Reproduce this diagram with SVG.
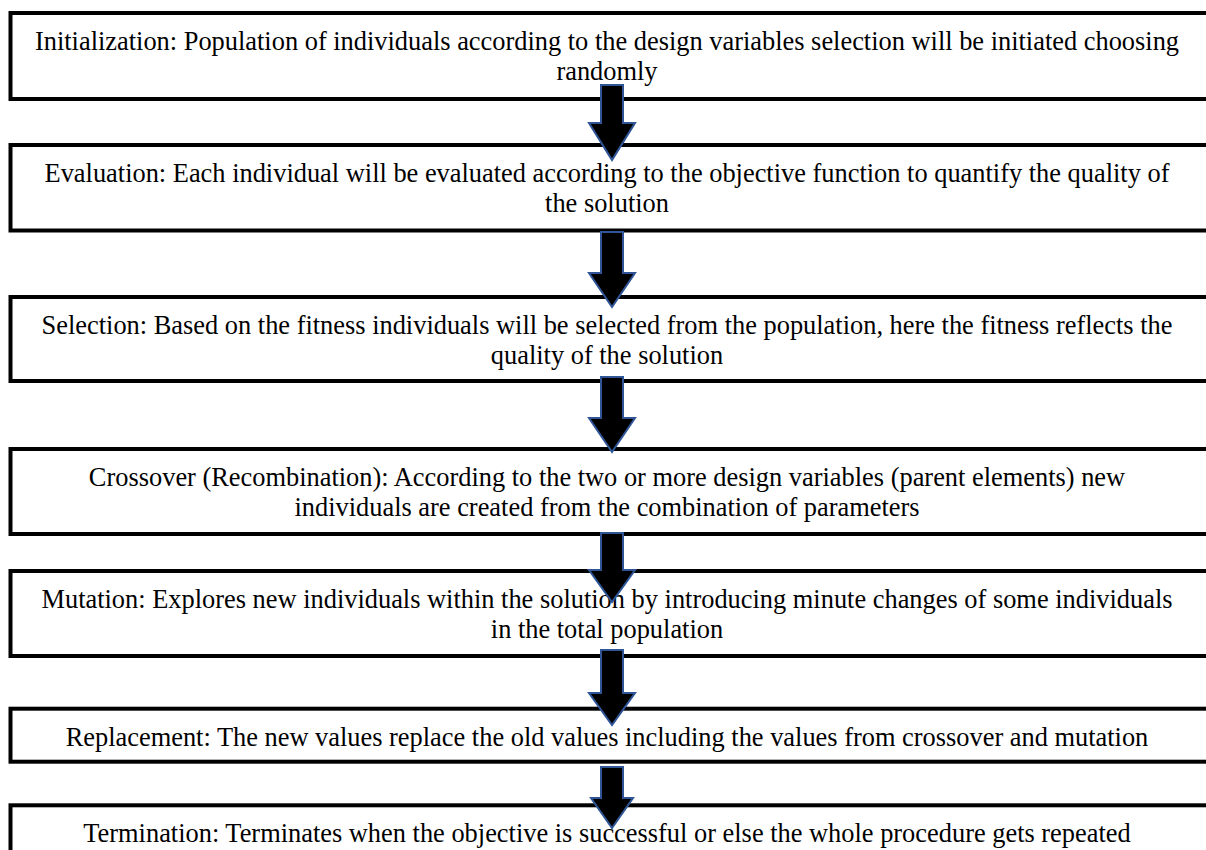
<svg xmlns="http://www.w3.org/2000/svg" width="1206" height="850" viewBox="0 0 1206 850">
  <style>
    .box { fill: #ffffff; stroke: #000000; stroke-width: 4; }
    .label { font-family: "Liberation Serif", "Times New Roman", serif; font-size: 26.4px; fill: #000000; text-anchor: middle; }
    .arrow { fill: #000000; stroke: #2F5597; stroke-width: 2; stroke-linejoin: miter; }
  </style>
  <rect width="1206" height="850" fill="#ffffff"/>

  <g id="initialization">
    <rect class="box" x="10.5" y="13" width="1210" height="86"/>
    <text class="label" x="607" y="50">Initialization: Population of individuals according to the design variables selection will be initiated choosing</text>
    <text class="label" x="607" y="80">randomly</text>
  </g>

  <g id="evaluation">
    <rect class="box" x="10.5" y="145" width="1210" height="85.5"/>
    <text class="label" x="607" y="182">Evaluation: Each individual will be evaluated according to the objective function to quantify the quality of</text>
    <text class="label" x="607" y="212">the solution</text>
  </g>

  <g id="selection">
    <rect class="box" x="10.5" y="297" width="1210" height="84"/>
    <text class="label" x="607" y="334">Selection: Based on the fitness individuals will be selected from the population, here the fitness reflects the</text>
    <text class="label" x="607" y="364">quality of the solution</text>
  </g>

  <g id="crossover">
    <rect class="box" x="10.5" y="449" width="1210" height="85"/>
    <text class="label" x="607" y="486">Crossover (Recombination): According to the two or more design variables (parent elements) new</text>
    <text class="label" x="607" y="516">individuals are created from the combination of parameters</text>
  </g>

  <g id="mutation">
    <rect class="box" x="10.5" y="571" width="1210" height="85"/>
    <text class="label" x="607" y="608">Mutation: Explores new individuals within the solution by introducing minute changes of some individuals</text>
    <text class="label" x="607" y="638">in the total population</text>
  </g>

  <g id="replacement">
    <rect class="box" x="10.5" y="708.7" width="1210" height="53"/>
    <text class="label" x="607" y="746">Replacement: The new values replace the old values including the values from crossover and mutation</text>
  </g>

  <g id="termination">
    <rect class="box" x="10.5" y="805.3" width="1210" height="80"/>
    <text class="label" x="607" y="841.7">Termination: Terminates when the objective is successful or else the whole procedure gets repeated</text>
  </g>

  <!-- block arrows between stages -->
  <g id="connectors">
    <polygon class="arrow" points="601,85 623,85 623,123 635,123 612,160 589,123 601,123"/>
    <polygon class="arrow" points="601,232 623,232 623,273 635,273 612,307 589,273 601,273"/>
    <polygon class="arrow" points="601,377 623,377 623,418 635,418 612,452 589,418 601,418"/>
    <polygon class="arrow" points="601,533 623,533 623,570 635,570 612,602 589,570 601,570"/>
    <polygon class="arrow" points="601,650 623,650 623,693 635,693 612,725 589,693 601,693"/>
    <polygon class="arrow" points="601,767 623,767 623,798 633,798 612,828 591,798 601,798"/>
  </g>
</svg>
